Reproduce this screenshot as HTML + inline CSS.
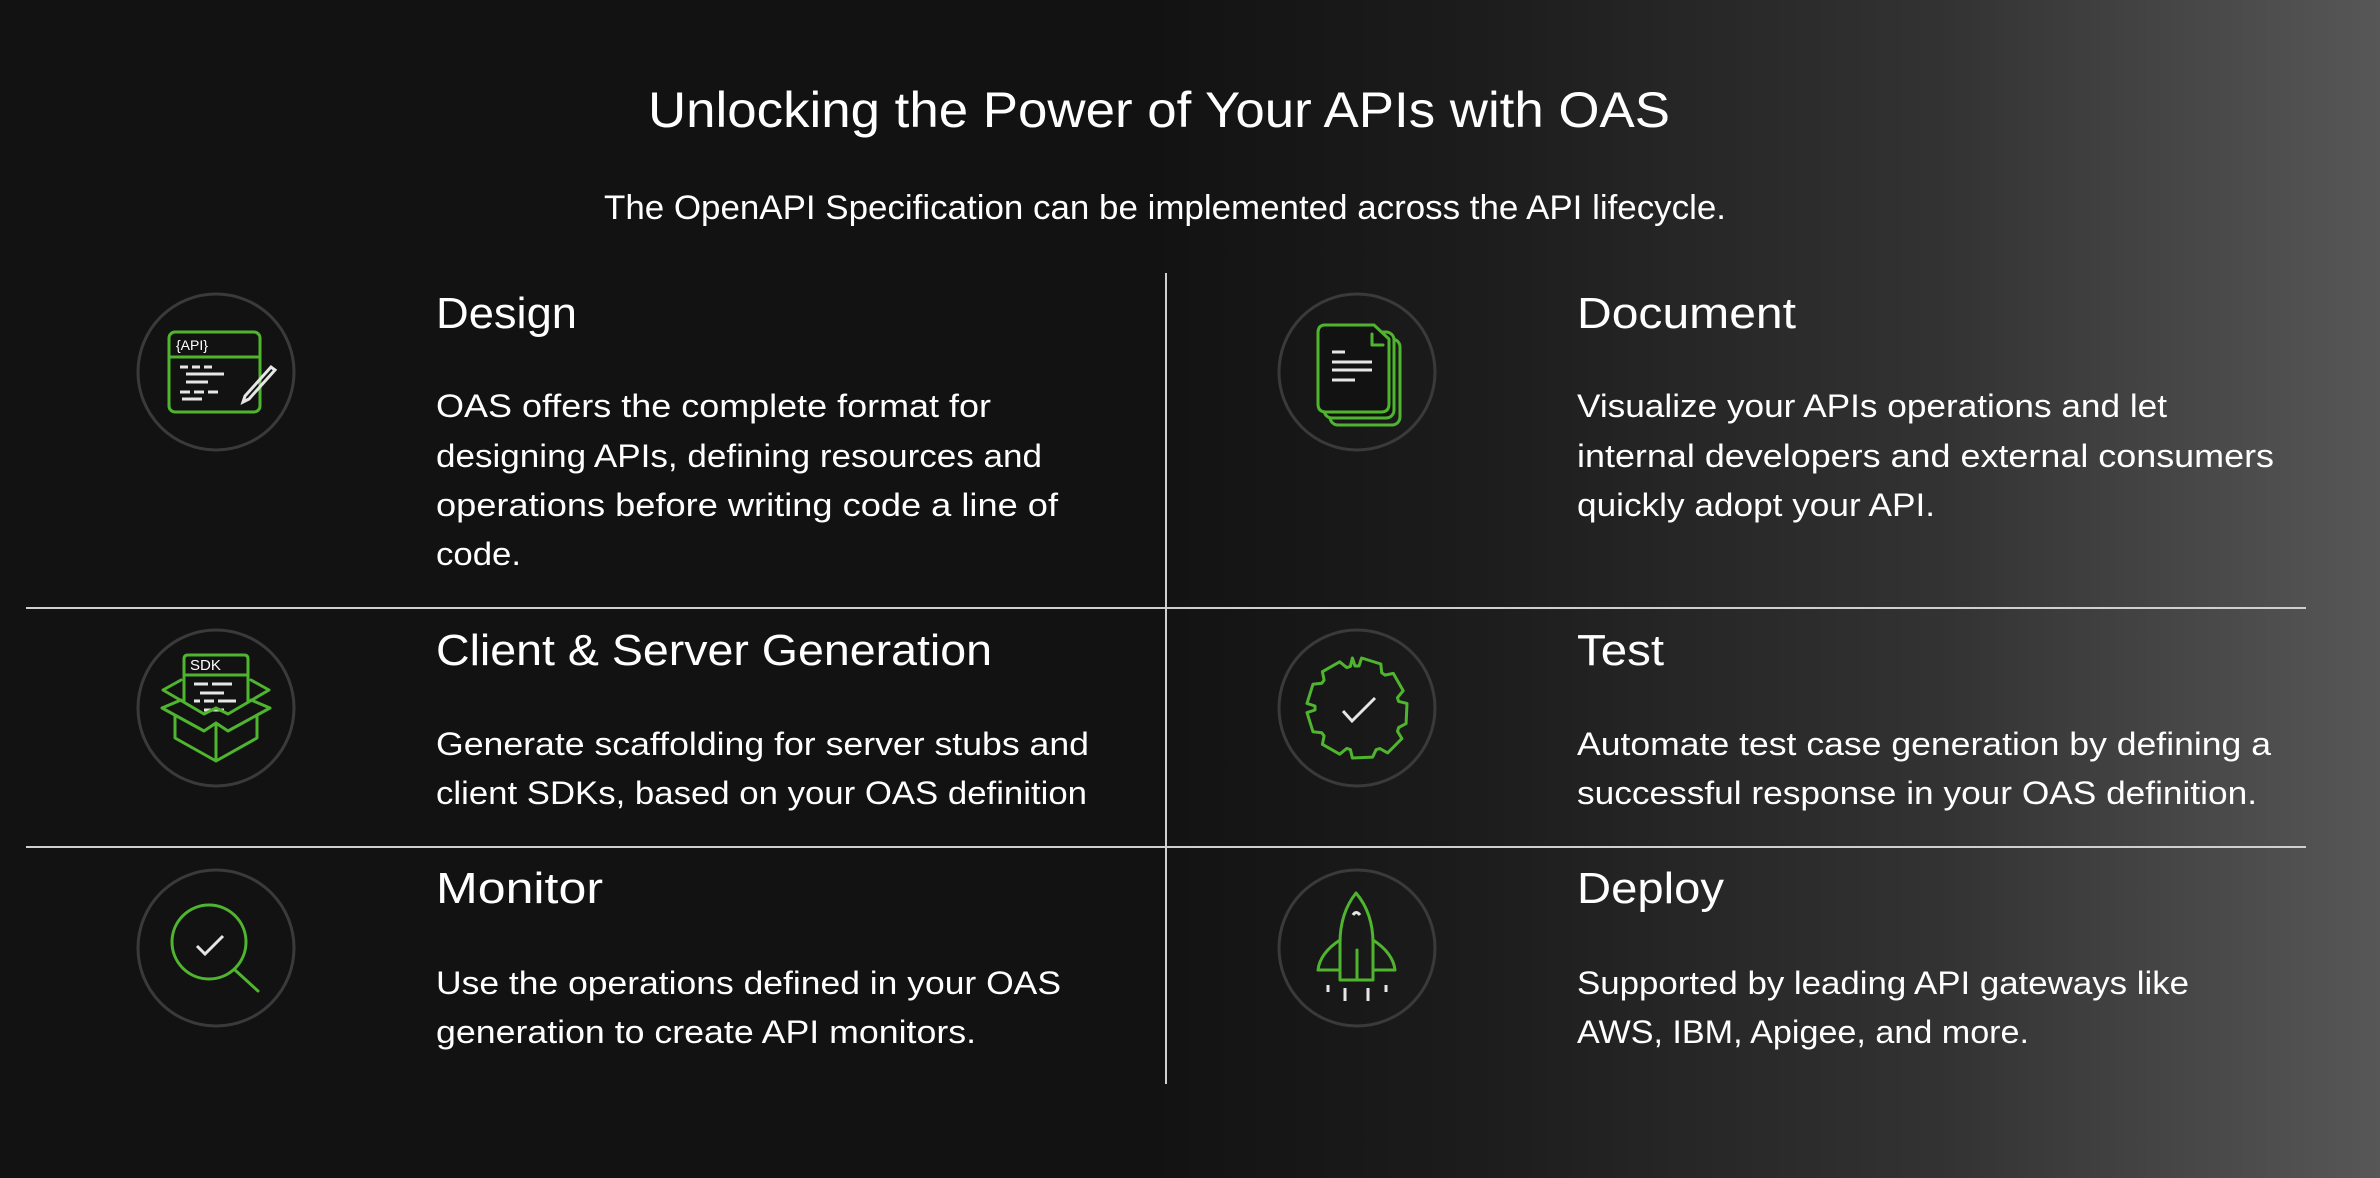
<!DOCTYPE html>
<html><head><meta charset="utf-8"><style>
html,body{margin:0;padding:0;}
body{width:2380px;height:1178px;overflow:hidden;background:linear-gradient(to right,#121212 0%,#121212 48%,#1c1c1c 62%,#333 82%,#575757 100%);}
svg{display:block}
text{font-family:"Liberation Sans",sans-serif;fill:#fff}
.h{font-size:44px}
.b{font-size:32px}
.g{fill:none;stroke:#4fb52f;stroke-width:3;stroke-linejoin:round;stroke-linecap:round}
.w{fill:none;stroke:#e6e6e6;stroke-width:3}
.c{fill:none;stroke:#3a3a3a;stroke-width:3}
</style></head><body>
<svg width="2380" height="1178" viewBox="0 0 2380 1178">
<text x="648" y="127" font-size="50" textLength="1022" lengthAdjust="spacingAndGlyphs">Unlocking the Power of Your APIs with OAS</text>
<text x="604" y="219" font-size="34" textLength="1122" lengthAdjust="spacingAndGlyphs">The OpenAPI Specification can be implemented across the API lifecycle.</text>

<line x1="1166" y1="273" x2="1166" y2="1084" stroke="#cfcfcf" stroke-width="2"/>
<line x1="26" y1="608" x2="2306" y2="608" stroke="#cfcfcf" stroke-width="2"/>
<line x1="26" y1="847" x2="2306" y2="847" stroke="#cfcfcf" stroke-width="2"/>

<!-- circles -->
<circle class="c" cx="216" cy="372" r="78"/>
<circle class="c" cx="1357" cy="372" r="78"/>
<circle class="c" cx="216" cy="708" r="78"/>
<circle class="c" cx="1357" cy="708" r="78"/>
<circle class="c" cx="216" cy="948" r="78"/>
<circle class="c" cx="1357" cy="948" r="78"/>

<!-- Design icon -->
<g transform="translate(216,372)">
<rect class="g" x="-47" y="-40" width="91" height="80" rx="6"/>
<line class="g" x1="-47" y1="-15" x2="44" y2="-15"/>
<text x="-40" y="-22" font-size="14" fill="#ddd">{API}</text>
<path class="w" stroke-width="2" d="M-36 -5h8M-24 -5h8M-12 -5h8M-30 2h30M-8 2h16M-30 10h22M-36 20h10M-22 20h10M-8 20h10M-34 27h20"/>
<path class="w" stroke-width="2" d="M55 -5 L29 24 L27 30 L33 27 L59 -2 Z"/>
</g>

<!-- Document icon -->
<g transform="translate(1357,372)">
<rect class="g" x="-27" y="-33" width="70" height="86" rx="8"/>
<rect class="g" x="-33" y="-40" width="70" height="86" rx="8" fill="#121212" style="fill:#121212"/>
<path class="g" style="fill:#121212" d="M-32 -47 H17 L32 -33 V32 Q32 40 24 40 H-31 Q-39 40 -39 32 V-39 Q-39 -47 -32 -47 Z"/>
<path class="g" d="M15 -38 V-27 H26"/>
<path class="w" stroke-width="2" d="M-25 -20h13M-25 -10h40M-25 -2h40M-25 8h23"/>
</g>

<!-- SDK icon -->
<g transform="translate(216,708)">
<path class="g" d="M-32 -7 V-49 Q-32 -53 -28 -53 H28 Q32 -53 32 -49 V-7"/>
<line class="g" x1="-32" y1="-33" x2="32" y2="-33"/>
<text x="-26" y="-38" font-size="15" fill="#ddd">SDK</text>
<path class="w" stroke-width="2" d="M-22 -24h14M-4 -24h20M-16 -15h24M-22 -7h6M-12 -7h10M2 -7h18M-12 2h20"/>
<path class="g" d="M-41 8 V30 L0 53 L41 30 V8 M0 15 V53"/>
<path class="g" d="M-35 -28 L-53 -18 L-12 6 L0 0"/>
<path class="g" d="M-35 -8 L-54 0 L-12 23 L0 15 L12 23 L54 0 L35 -8"/>
<path class="g" d="M35 -28 L53 -18 L12 6 L0 0"/>
</g>

<!-- Test gear -->
<g transform="translate(1357,708)">
<path class="g" stroke-width="2.5" d="M -4.6,-50.0 L -2.0,-42.0 L 2.0,-42.0 L 4.6,-50.0 L 23.8,-44.0 L 24.7,-35.3 L 27.9,-32.9 L 36.3,-34.6 L 46.2,-17.3 L 40.4,-10.2 L 41.6,-6.6 L 50.0,-4.6 L 49.1,15.6 L 41.7,19.5 L 40.5,23.3 L 44.9,30.6 L 30.6,44.9 L 22.8,40.5 L 19.1,41.7 L 15.6,49.1 L -4.6,50.0 L -6.6,41.6 L -10.2,40.4 L -17.3,46.2 L -34.6,36.3 L -32.9,27.9 L -35.3,24.7 L -44.0,23.8 L -50.0,4.6 L -42.0,2.0 L -42.0,-2.0 L -50.0,-4.6 L -44.0,-23.8 L -35.3,-24.7 L -32.9,-27.9 L -34.6,-36.3 L -17.3,-46.2 L -10.2,-40.4 L -6.6,-41.6 Z"/>
<path class="w" stroke-width="2" d="M-14 3 L-5 13 L18 -10"/>
</g>

<!-- Monitor -->
<g transform="translate(216,948)">
<circle class="g" cx="-7" cy="-6" r="37"/>
<line class="g" x1="19" y1="22" x2="42" y2="43"/>
<path class="w" stroke-width="2" d="M-19 -2 L-11 6 L7 -12"/>
</g>

<!-- Deploy rocket -->
<g transform="translate(1357,948)">
<path class="g" d="M-1 -55 Q-17 -35 -17 -5 V32 H16 V-5 Q16 -35 -1 -55 Z"/>
<path class="g" d="M-17 -8 Q-37 5 -39 22 H-17 M16 -8 Q36 5 38 22 H16"/>
<line class="g" x1="0" y1="2" x2="0" y2="32"/>
<path class="w" stroke-width="2" d="M-4 -33 Q-1 -38 3 -33"/>
<path class="w" stroke-width="2" d="M-29 37v7M-12 40v13M11 40v13M29 37v7"/>
</g>

<!-- Text: column 1 -->
<text class="h" x="436" y="328" textLength="141" lengthAdjust="spacingAndGlyphs">Design</text>
<text class="b" x="436" y="417" textLength="555" lengthAdjust="spacingAndGlyphs">OAS offers the complete format for</text>
<text class="b" x="436" y="467" textLength="606" lengthAdjust="spacingAndGlyphs">designing APIs, defining resources and</text>
<text class="b" x="436" y="516" textLength="622" lengthAdjust="spacingAndGlyphs">operations before writing code a line of</text>
<text class="b" x="436" y="565" textLength="85" lengthAdjust="spacingAndGlyphs">code.</text>

<text class="h" x="436" y="665" textLength="556" lengthAdjust="spacingAndGlyphs">Client &amp; Server Generation</text>
<text class="b" x="436" y="755" textLength="653" lengthAdjust="spacingAndGlyphs">Generate scaffolding for server stubs and</text>
<text class="b" x="436" y="804" textLength="651" lengthAdjust="spacingAndGlyphs">client SDKs, based on your OAS definition</text>

<text class="h" x="436" y="903" textLength="167" lengthAdjust="spacingAndGlyphs">Monitor</text>
<text class="b" x="436" y="994" textLength="625" lengthAdjust="spacingAndGlyphs">Use the operations defined in your OAS</text>
<text class="b" x="436" y="1043" textLength="540" lengthAdjust="spacingAndGlyphs">generation to create API monitors.</text>

<!-- Text: column 2 -->
<text class="h" x="1577" y="328" textLength="219" lengthAdjust="spacingAndGlyphs">Document</text>
<text class="b" x="1577" y="417" textLength="590" lengthAdjust="spacingAndGlyphs">Visualize your APIs operations and let</text>
<text class="b" x="1577" y="467" textLength="697" lengthAdjust="spacingAndGlyphs">internal developers and external consumers</text>
<text class="b" x="1577" y="516" textLength="358" lengthAdjust="spacingAndGlyphs">quickly adopt your API.</text>

<text class="h" x="1577" y="665" textLength="87" lengthAdjust="spacingAndGlyphs">Test</text>
<text class="b" x="1577" y="755" textLength="694" lengthAdjust="spacingAndGlyphs">Automate test case generation by defining a</text>
<text class="b" x="1577" y="804" textLength="680" lengthAdjust="spacingAndGlyphs">successful response in your OAS definition.</text>

<text class="h" x="1577" y="903" textLength="147" lengthAdjust="spacingAndGlyphs">Deploy</text>
<text class="b" x="1577" y="994" textLength="612" lengthAdjust="spacingAndGlyphs">Supported by leading API gateways like</text>
<text class="b" x="1577" y="1043" textLength="452" lengthAdjust="spacingAndGlyphs">AWS, IBM, Apigee, and more.</text>
</svg>
</body></html>
